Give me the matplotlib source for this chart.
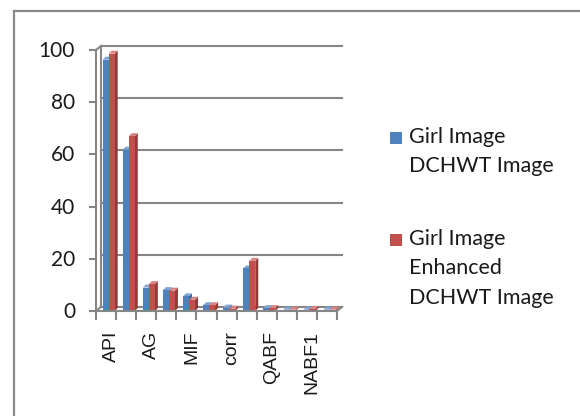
import matplotlib
matplotlib.use("Agg")
import matplotlib.pyplot as plt
from matplotlib.patches import Polygon, Rectangle
from matplotlib.lines import Line2D
from matplotlib.transforms import IdentityTransform

# Fusion quality metrics for the two girl images
metrics = ["API", "SD", "AG", "H", "MIF", "FS", "corr", "SF", "QABF", "LABF", "NABF1", "NABF"]
dchwt = [96.3, 61.8, 9.0, 8.0, 5.6, 2.2, 1.3, 16.3, 1.1, 0.5, 0.5, 0.5]
enhanced = [98.6, 67.0, 10.3, 7.8, 4.3, 2.2, 0.9, 19.2, 1.1, 0.5, 0.8, 0.5]
series_names = [["Girl Image", "DCHWT Image"], ["Girl Image", "Enhanced", "DCHWT Image"]]
yticks = [0, 20, 40, 60, 80, 100]

W, H, DPI = 580, 416, 100
fig = plt.figure(figsize=(W / DPI, H / DPI), dpi=DPI)
fig.patch.set_facecolor("white")

# outer chart frame (left and top edges visible)
frame_c = "#8a8a8a"
fig.add_artist(Line2D([14 / W, 14 / W], [0, 1 - 11 / H], color=frame_c, lw=1.6,
                      transform=fig.transFigure))
fig.add_artist(Line2D([14 / W, 1], [1 - 11 / H, 1 - 11 / H], color=frame_c, lw=1.6,
                      transform=fig.transFigure))

left, right, top, bottom = 96, 337, 50, 311
ax = fig.add_axes([left / W, (H - bottom) / H, (right - left) / W, (bottom - top) / H])
ax.set_xlim(0, len(metrics))
ax.set_ylim(0, 100)
ax.axis("off")

grid_c = "#868686"
dx, dy = 5, 4  # depth of the back wall in pixels
T = ax.transData
ident = IdentityTransform()


def px(x, y):
    return T.transform((x, y))


n = len(metrics)
# back wall gridlines
for v in yticks:
    a = px(0, v) + (dx, dy)
    b = px(n, v) + (dx, dy)
    ax.add_line(Line2D([a[0], b[0]], [a[1], b[1]], color=grid_c, lw=1.5,
                       transform=ident, clip_on=False, zorder=1))
a = px(0, 0) + (dx, dy)
b = px(0, 100) + (dx, dy)
ax.add_line(Line2D([a[0], b[0]], [a[1], b[1]], color=grid_c, lw=1.5,
                   transform=ident, clip_on=False, zorder=1))
for (x0, y0) in [(0, 100), (0, 0), (n, 0)]:
    a = px(x0, y0)
    b = a + (dx, dy)
    ax.add_line(Line2D([a[0], b[0]], [a[1], b[1]], color=grid_c, lw=1.5,
                       transform=ident, clip_on=False, zorder=1))

# front axes
a, b = px(0, 0), px(0, 100)
ax.add_line(Line2D([a[0], b[0]], [a[1], b[1]], color=grid_c, lw=1.5,
                   transform=ident, clip_on=False, zorder=2))
a, b = px(0, 0), px(n, 0)
ax.add_line(Line2D([a[0], b[0]], [a[1], b[1]], color=grid_c, lw=1.5,
                   transform=ident, clip_on=False, zorder=6))
for v in yticks:
    a = px(0, v)
    ax.add_line(Line2D([a[0] - 6, a[0]], [a[1], a[1]], color=grid_c, lw=1.5,
                       transform=ident, clip_on=False, zorder=2))
    ax.text(a[0] - 21, a[1] - 1, str(v), transform=ident, ha="right", va="center",
            fontsize=15, family="Lato", color="#1a1a1a")
for i in range(n + 1):
    a = px(i, 0)
    ax.add_line(Line2D([a[0], a[0]], [a[1], a[1] - 8], color=grid_c, lw=1.5,
                       transform=ident, clip_on=False, zorder=6))

# category labels on every other column
for i, name in enumerate(metrics):
    if i % 2 == 0:
        a = px(i + 0.5, 0)
        ax.text(a[0] + 5, a[1] - 20, name, transform=ident, rotation=90,
                ha="center", va="top", fontsize=14, family="Liberation Sans",
                color="#1a1a1a")

# 3D-style columns
bw = 0.3
bdx, bdy = 3, 3
styles = [("#4f81bd", "#3a6398", "#7fa3d3"), ("#c0504d", "#923a38", "#d98482")]
for s, vals in enumerate([dchwt, enhanced]):
    front, side, topc = styles[s]
    for i, v in enumerate(vals):
        x0 = i + 0.33 + s * bw
        p0 = px(x0, 0)
        p1 = px(x0 + bw, v)
        z = 3 + i * 0.01 + s * 0.001
        ax.add_patch(Polygon([(p1[0], p0[1]), (p1[0] + bdx, p0[1] + bdy),
                              (p1[0] + bdx, p1[1] + bdy), (p1[0], p1[1])],
                             closed=True, facecolor=side, edgecolor="none",
                             transform=ident, clip_on=False, zorder=z))
        ax.add_patch(Polygon([(p0[0], p1[1]), (p1[0], p1[1]),
                              (p1[0] + bdx, p1[1] + bdy), (p0[0] + bdx, p1[1] + bdy)],
                             closed=True, facecolor=topc, edgecolor="none",
                             transform=ident, clip_on=False, zorder=z))
        ax.add_patch(Rectangle((p0[0], p0[1]), p1[0] - p0[0], p1[1] - p0[1],
                               facecolor=front, edgecolor="none",
                               transform=ident, clip_on=False, zorder=z))

# legend: one swatch per series, label lines set on baselines
legend_items = [(series_names[0], styles[0][0], 143), (series_names[1], styles[1][0], 245)]
line_step = 29.5
for lines, color, base in legend_items:
    fig.add_artist(Rectangle((390 / W, 1 - (base + 1) / H), 12 / W, 12 / H,
                             facecolor=color, edgecolor="none",
                             transform=fig.transFigure))
    for k, line in enumerate(lines):
        fig.text(409 / W, 1 - (base + k * line_step) / H, line, ha="left",
                 va="baseline", fontsize=15.5, family="Lato", color="#1a1a1a")

fig.savefig("out.png", dpi=DPI, facecolor="white")
